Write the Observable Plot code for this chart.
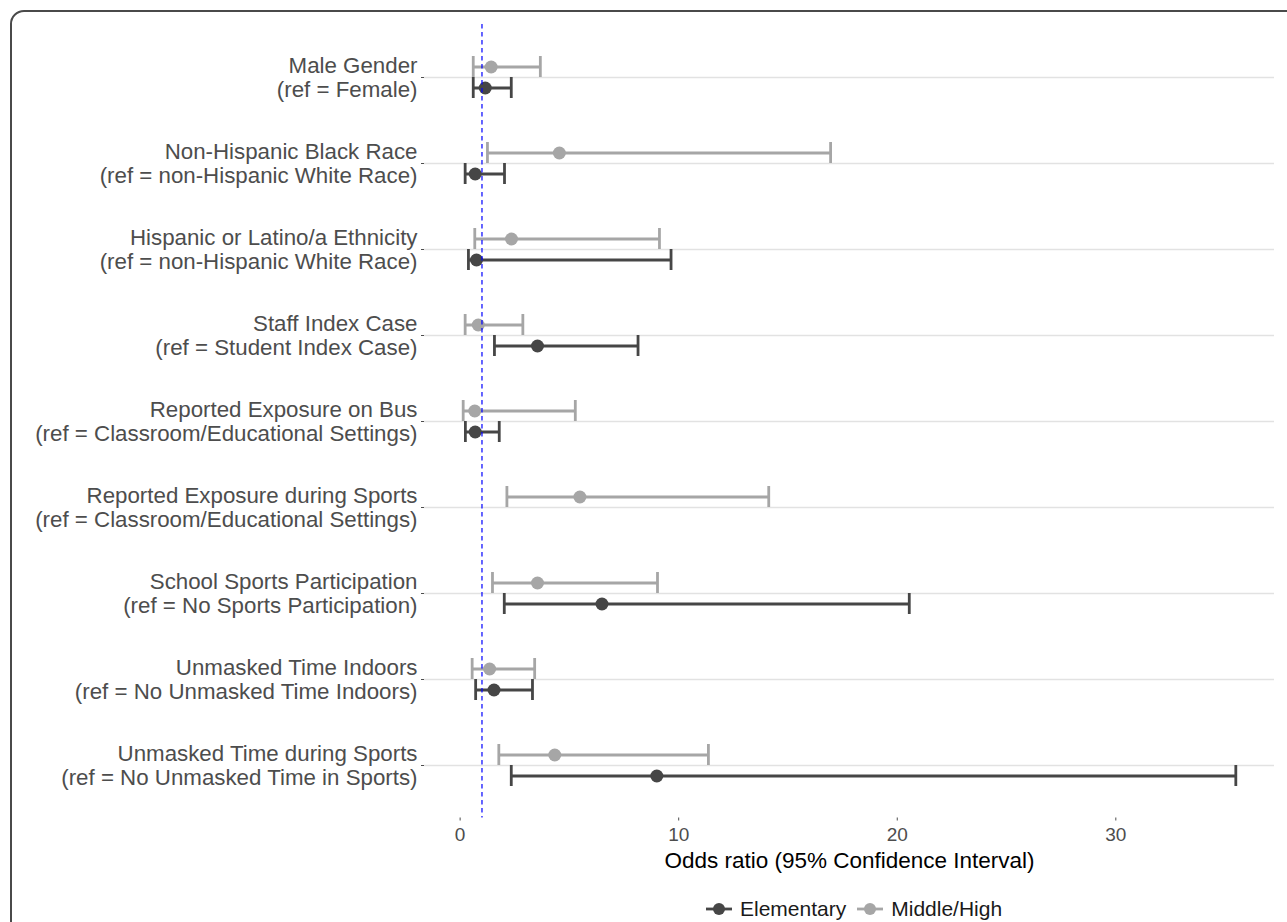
<!DOCTYPE html>
<html>
<head>
<meta charset="utf-8">
<script src="https://cdn.jsdelivr.net/npm/d3@7"></script>
<script src="https://cdn.jsdelivr.net/npm/@observablehq/plot@0.6"></script>
<style>
  html, body { margin: 0; padding: 0; background: #fff; width: 1287px; height: 922px; overflow: hidden;
    font-family: "Liberation Sans", Arial, sans-serif; }
  #frame { position: absolute; left: 10px; top: 10px; width: 1320px; height: 980px;
    border: 2px solid #4a4a4a; border-radius: 14px; box-sizing: border-box; pointer-events: none; }
  #chart { position: absolute; left: 0; top: 0; }
  #legend { position: absolute; left: 706px; top: 898px; display: flex; align-items: center;
    font-size: 21px; line-height: 22px; color: #1a1a1a; white-space: nowrap; }
  #legend .item { display: flex; align-items: center; margin-right: 11px; }
  #legend svg { margin-right: 8px; }
</style>
</head>
<body>
<div id="chart"></div>
<div id="legend"></div>
<div id="frame"></div>
<script>
// ---- data ----
const categories = [
  "Male Gender",
  "Non-Hispanic Black Race",
  "Hispanic or Latino/a Ethnicity",
  "Staff Index Case",
  "Reported Exposure on Bus",
  "Reported Exposure during Sports",
  "School Sports Participation",
  "Unmasked Time Indoors",
  "Unmasked Time during Sports"
];
const refs = [
  "(ref = Female)",
  "(ref = non-Hispanic White Race)",
  "(ref = non-Hispanic White Race)",
  "(ref = Student Index Case)",
  "(ref = Classroom/Educational Settings)",
  "(ref = Classroom/Educational Settings)",
  "(ref = No Sports Participation)",
  "(ref = No Unmasked Time Indoors)",
  "(ref = No Unmasked Time in Sports)"
];
const groups = ["Elementary", "Middle/High"];
const elemOR = [1.15, 0.69, 0.75, 3.54, 0.69, null, 6.49, 1.55, 9.00];
const elemLo = [0.60, 0.23, 0.38, 1.57, 0.24, null, 2.02, 0.71, 2.34];
const elemHi = [2.34, 2.03, 9.65, 8.14, 1.79, null, 20.55, 3.31, 35.49];
const midOR  = [1.42, 4.54, 2.35, 0.83, 0.67, 5.48, 3.54, 1.35, 4.33];
const midLo  = [0.60, 1.25, 0.67, 0.23, 0.14, 2.14, 1.48, 0.55, 1.77];
const midHi  = [3.67, 16.95, 9.12, 2.87, 5.27, 14.12, 9.03, 3.41, 11.36];
const xTicks = [0, 10, 20, 30];
const refLine = [1];
const xTitle = "Odds ratio (95% Confidence Interval)";

// ---- build tables ----
const elem = [], mid = [];
categories.forEach((c, i) => {
  if (elemOR[i] != null) elem.push({cat: c, or: elemOR[i], lo: elemLo[i], hi: elemHi[i]});
  mid.push({cat: c, or: midOR[i], lo: midLo[i], hi: midHi[i]});
});
const labelOf = new Map(categories.map((c, i) => [c, c + "\n" + refs[i]]));

const DARK = "#464646", GRAY = "#a6a6a6";
const colors = {"Elementary": DARK, "Middle/High": GRAY};
const OFF = 10.5, LW = 2.8, CAP = -10.5, R = 6.5;

function series(data, color, dy) {
  return [
    Plot.ruleY(data, {x1: "lo", x2: "hi", y: "cat", dy, stroke: color, strokeWidth: LW}),
    Plot.ruleX(data, {x: "lo", y1: "cat", y2: "cat", dy, insetTop: CAP, insetBottom: CAP, stroke: color, strokeWidth: LW}),
    Plot.ruleX(data, {x: "hi", y1: "cat", y2: "cat", dy, insetTop: CAP, insetBottom: CAP, stroke: color, strokeWidth: LW}),
    Plot.dot(data, {x: "or", y: "cat", dy, r: R, fill: color, stroke: "none"})
  ];
}

const mTop = 24, plotBottom = 817.5, mBottom = 74;
const chart = Plot.plot({
  width: 1287,
  height: plotBottom + mBottom,
  marginLeft: 424,
  marginRight: 13,
  marginTop: mTop,
  marginBottom: mBottom,
  style: {fontFamily: "'Liberation Sans', Arial, sans-serif", background: "transparent", overflow: "visible"},
  x: {domain: [-1.63, 37.26], label: null},
  y: {type: "point", domain: categories, padding: 0.6, label: null},
  marks: [
    Plot.ruleY(categories, {y: d => d, stroke: "#e2e2e2", strokeWidth: 1.3}),
    Plot.axisY({tickSize: 3, tickPadding: 4, fontSize: 22.3, lineHeight: 1.07,
      tickFormat: d => labelOf.get(d), label: null, color: "#4d4d4d"}),
    Plot.axisX({ticks: xTicks, tickSize: 3, tickPadding: 6, fontSize: 19, label: null, color: "#4d4d4d"}),
    Plot.text([xTitle], {text: d => d, frameAnchor: "bottom", dy: 50, fontSize: 22.5, fill: "#000"}),
    ...series(mid, GRAY, -OFF),
    ...series(elem, DARK, OFF),
    Plot.ruleX(refLine, {x: d => d, stroke: "#0000ff", strokeWidth: 1.2, strokeDasharray: "4.5,3.5"})
  ]
});
document.getElementById("chart").appendChild(chart);

// ---- legend ----
const legend = document.getElementById("legend");
groups.forEach(g => {
  const item = document.createElement("div");
  item.className = "item";
  const c = colors[g];
  item.innerHTML = `<svg width="26" height="16" viewBox="0 0 26 16"><line x1="0" y1="8" x2="26" y2="8" stroke="${c}" stroke-width="2.8"/><circle cx="13" cy="8" r="6" fill="${c}"/></svg><span>${g}</span>`;
  legend.appendChild(item);
});
</script>
</body>
</html>
